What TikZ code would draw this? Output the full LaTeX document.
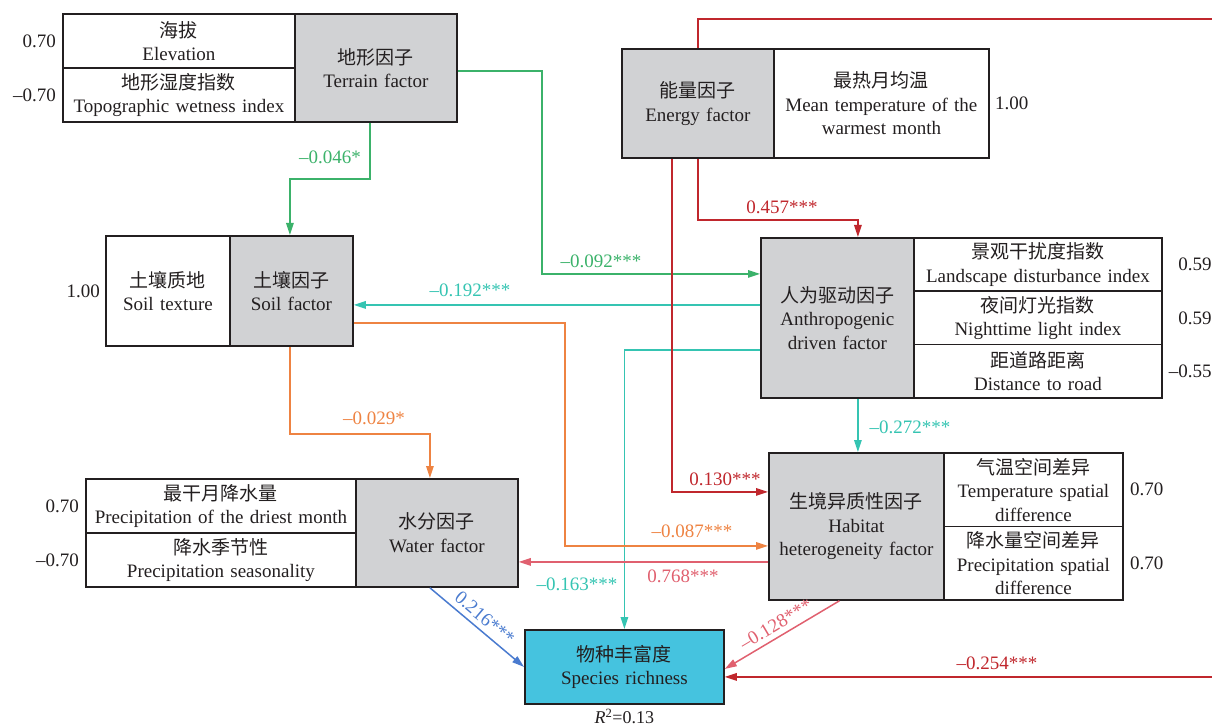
\documentclass[tikz,border=0pt]{standalone}
\usepackage{fontspec}
\setmainfont{Liberation Serif}
\newfontfamily\cjkf{Noto Sans CJK SC}
\usetikzlibrary{arrows.meta}
\newcommand\zhs[1]{{\cjkf #1}}
\definecolor{boxc}{HTML}{231F20}
\definecolor{grayf}{HTML}{D1D2D4}
\definecolor{spcf}{HTML}{45C3DF}
\definecolor{cgreen}{HTML}{3BB26A}
\definecolor{cteal}{HTML}{35C4B2}
\definecolor{cred}{HTML}{C0272D}
\definecolor{corange}{HTML}{EE8342}
\definecolor{cpink}{HTML}{E0606F}
\definecolor{cblue}{HTML}{4A7BCF}
\begin{document}
\begin{tikzpicture}[x=1pt,y=-1pt,
 every node/.style={font=\fontsize{19}{23.5}\selectfont, text=boxc},
 cell/.style={draw=boxc, line width=1.8pt, inner sep=0pt, align=center, anchor=north west, fill=white},
 gcell/.style={cell, fill=grayf},
 conn/.style={line width=1.5pt, -{Triangle[length=12pt,width=7.5pt]}},
 lab/.style={inner sep=1pt},
 num/.style={inner sep=0pt}]
\useasboundingbox (0,0) rectangle (1212,727);

% terrain group
\node[cell, text width=232pt, minimum height=54pt] (elev) at (62,13) {\zhs{海拔}\\Elevation};
\node[cell, text width=232pt, minimum height=54pt] (twi) at (62,67) {\zhs{地形湿度指数}\\Topographic wetness index};
\node[gcell, text width=162pt, minimum height=108pt] (terrain) at (294,13) {\zhs{地形因子}\\Terrain factor};
\node[num, anchor=east] (n1) at ([xshift=-6pt]elev.west) {0.70};
\node[num, anchor=east] (n2) at ([xshift=-6pt]twi.west) {–0.70};

% energy group
\node[gcell, text width=152pt, minimum height=109pt] (energy) at (621,48) {\zhs{能量因子}\\Energy factor};
\node[cell, text width=215pt, minimum height=109pt] (mtwm) at (773,48) {\zhs{最热月均温}\\Mean temperature of the\\warmest month};
\node[num, anchor=west] (n3) at ([xshift=5pt]mtwm.east) {1.00};

% anthropogenic group
\node[gcell, text width=153pt, minimum height=160pt] (anthro) at (760,237) {\zhs{人为驱动因子}\\Anthropogenic\\driven factor};
\node[cell, text width=248pt, minimum height=53.33pt] (ldi) at (913,237) {\zhs{景观干扰度指数}\\Landscape disturbance index};
\node[cell, text width=248pt, minimum height=53.33pt] (nli) at (913,290.33) {\zhs{夜间灯光指数}\\Nighttime light index};
\node[cell, text width=248pt, minimum height=53.33pt] (dtr) at (913,343.67) {\zhs{距道路距离}\\Distance to road};
\node[num, anchor=east] (n4) at ([xshift=49pt]ldi.east) {0.59};
\node[num, anchor=east] (n5) at ([xshift=49pt]nli.east) {0.59};
\node[num, anchor=east] (n6) at ([xshift=49pt]dtr.east) {–0.55};

% soil group
\node[cell, text width=124pt, minimum height=110pt] (stex) at (105,235) {\zhs{土壤质地}\\Soil texture};
\node[gcell, text width=123pt, minimum height=110pt] (soil) at (229,235) {\zhs{土壤因子}\\Soil factor};
\node[num, anchor=east] (n7) at ([xshift=-5pt]stex.west) {1.00};

% water group
\node[cell, text width=270pt, minimum height=54pt] (pdm) at (85,478) {\zhs{最干月降水量}\\Precipitation of the driest month};
\node[cell, text width=270pt, minimum height=54pt] (ps) at (85,532) {\zhs{降水季节性}\\Precipitation seasonality};
\node[gcell, text width=162pt, minimum height=108pt] (water) at (355,478) {\zhs{水分因子}\\Water factor};
\node[num, anchor=east] (n8) at ([xshift=-6pt]pdm.west) {0.70};
\node[num, anchor=east] (n9) at ([xshift=-6pt]ps.west) {–0.70};

% habitat group
\node[gcell, text width=175pt, minimum height=147pt] (habitat) at (768,452) {\zhs{生境异质性因子}\\Habitat\\heterogeneity factor};
\node[cell, text width=179pt, minimum height=73.5pt] (tsd) at (943,452) {\zhs{气温空间差异}\\Temperature spatial\\difference};
\node[cell, text width=179pt, minimum height=73.5pt] (psd) at (943,525.5) {\zhs{降水量空间差异}\\Precipitation spatial\\difference};
\node[num, anchor=west] (n10) at ([xshift=6pt]tsd.east) {0.70};
\node[num, anchor=west] (n11) at ([xshift=6pt]psd.east) {0.70};

% species
\node[cell, fill=spcf, text width=199pt, minimum height=74pt] (species) at (524,629) {\zhs{物种丰富度}\\Species richness};
\node[num, font=\fontsize{18}{20}\selectfont] (r2) at ([yshift=-12pt]species.south) {\textit{R}\textsuperscript{2}=0.13};

% connectors
\draw[conn, cgreen] ([xshift=-6pt]terrain.south) -- ++(0,56) -| ([xshift=-1.5pt]soil.north);
\draw[conn, cgreen] ([yshift=-3pt]terrain.east) -- ++(84,0) |- ([yshift=44pt]anthro.west);
\draw[conn, cteal] ([yshift=13pt]anthro.west) -- ([yshift=-14pt]soil.east);
\draw[conn, cteal] ([yshift=-32pt]anthro.west) -| (species.north);
\draw[conn, corange] ([xshift=-1.5pt]soil.south) -- ++(0,87) -| ([xshift=-7pt]water.north);
\draw[conn, corange] ([yshift=-32pt]soil.east) -- ++(211,0) |- ([yshift=-19.5pt]habitat.west);
\draw[conn, cpink] ([yshift=-35.5pt]habitat.west) -- ([yshift=-29pt]water.east);
\draw[conn, cteal] ([xshift=20.5pt]anthro.south) -- ([xshift=1.5pt]habitat.north);
\draw[conn, cred] ([xshift=-26pt]energy.south) |- ([yshift=34.5pt]habitat.west);
\draw[conn, cred] (energy.south) -- ++(0,61) -| ([xshift=20.5pt]anthro.north);
\draw[conn, cred] (energy.north) -- ++(0,-29) -- (1230,19) |- ([yshift=-10pt]species.east);
\draw[conn, cblue] ([xshift=-7pt]water.south) -- node[sloped, above=4pt, lab, text=cblue] {0.216***} (species.west);
\draw[conn, cpink] ([xshift=-17pt]habitat.south) -- node[sloped, above=4pt, lab, text=cpink] {–0.128***} ([yshift=-2pt]species.east);

% labels
\node[lab, text=cgreen] (l1) at (330,157) {–0.046*};
\node[lab, text=cgreen] (l2) at (601,261) {–0.092***};
\node[lab, text=cteal] (l3) at (470,290) {–0.192***};
\node[lab, text=cred] (l4) at (782,207) {0.457***};
\node[lab, text=cteal] (l5) at (910,427) {–0.272***};
\node[lab, text=cred] (l6) at (725,479) {0.130***};
\node[lab, text=corange] (l7) at (692,531) {–0.087***};
\node[lab, text=cpink] (l8) at (683,576) {0.768***};
\node[lab, text=cteal] (l9) at (577,584) {–0.163***};
\node[lab, text=corange] (l10) at (374,418) {–0.029*};
\node[lab, text=cred] (l11) at (997,663) {–0.254***};
\end{tikzpicture}
\end{document}
